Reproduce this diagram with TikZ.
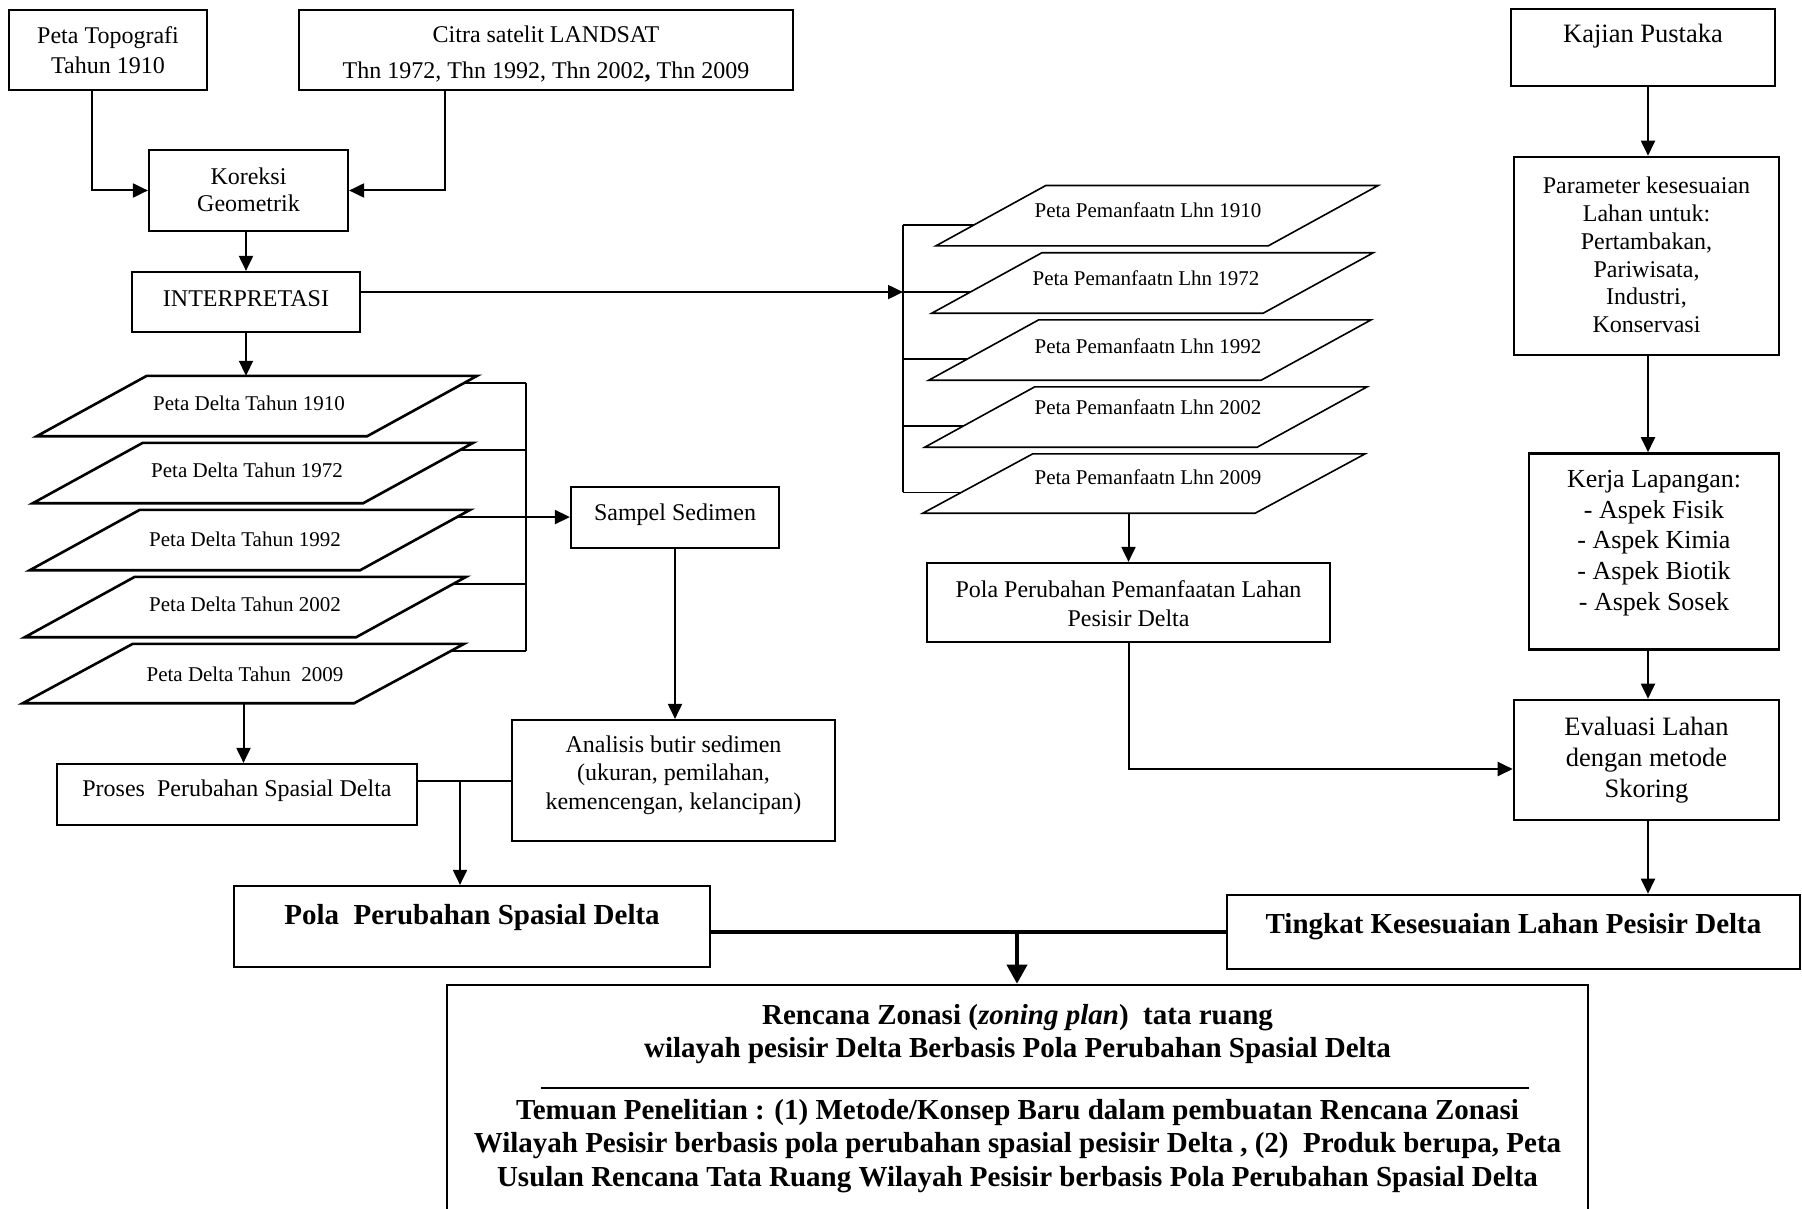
\documentclass[tikz,border=0pt]{standalone}
\usepackage{fontspec}
\setmainfont{Liberation Serif}
\usetikzlibrary{arrows.meta,calc}
\begin{document}
\begin{tikzpicture}[x=1pt,y=-1pt,
  box/.style={draw, line width=2.2pt, inner sep=0pt},
  rbox/.style={draw, line width=2.6pt, inner sep=0pt},
  shp/.style={draw=none, inner sep=0pt, minimum height=60},
  dpar/.style={line width=2.6pt, line join=miter},
  ppar/.style={line width=1.6pt, line join=miter},
  txt/.style={inner sep=0pt, align=center, font=\fontsize{24}{29}\selectfont},
  ptxt/.style={inner sep=0pt, font=\fontsize{21}{25}\selectfont},
  btxt/.style={inner sep=0pt, align=center, font=\fontsize{29}{33.3}\selectfont\bfseries},
  stxt/.style={inner sep=0pt, align=center, font=\fontsize{26.5}{31}\selectfont},
  ln/.style={line width=2pt},
  pln/.style={line width=1.6pt},
  arr/.style={line width=2pt, -{Triangle[length=15pt,width=14pt]}},
  tarr/.style={line width=3.8pt, -{Triangle[length=19pt,width=20pt]}},
  heavy/.style={line width=3.8pt},
]
\useasboundingbox (0,0) rectangle (1802,1209);
\fill[white] (0,0) rectangle (1802,1209);
\clip (0,0) rectangle (1802,1209);

% ---------- top left ----------
\node[box, minimum width=198, minimum height=80] (topo) at (108,50) {};
\node[txt, font=\fontsize{24}{30}\selectfont] (topoT) at (108,50) {Peta Topografi\\Tahun 1910};
\node[box, minimum width=494, minimum height=80] (citra) at (546,50) {};
\node[txt, font=\fontsize{24}{36}\selectfont] (citraT) at (546,54) {Citra satelit LANDSAT\\Thn 1972, Thn 1992, Thn 2002{\bfseries,} Thn 2009};
\node[box, minimum width=199, minimum height=81] (koreksi) at (248.5,190.5) {};
\node[txt, font=\fontsize{24}{27}\selectfont] (koreksiT) at (248.5,190) {Koreksi\\Geometrik};
\node[box, minimum width=228, minimum height=60] (interp) at (246,302) {};
\node[txt] (interpT) at (246,299) {INTERPRETASI};

\draw[arr] ($(topo.south west)+(84,0)$) |- (koreksi.west);
\draw[arr] ($(citra.south west)+(147,0)$) |- (koreksi.east);
\draw[arr] (interp.north |- koreksi.south) -- (interp.north);

% ---------- delta maps ----------
\node[shp, minimum width=440] (d1) at (257,406) {};
\node[shp, minimum width=440] (d2) at (253,473) {};
\node[shp, minimum width=440] (d3) at (250,540) {};
\node[shp, minimum width=441] (d4) at (245.5,607) {};
\node[shp, minimum width=441, minimum height=59] (d5) at (243.5,673.5) {};
\foreach \n in {d1,d2,d3,d4,d5}{
  \coordinate (\n-tl) at ($(\n.north west)+(110,0)$);
  \coordinate (\n-br) at ($(\n.south east)+(-110,0)$);
  \draw[dpar] (\n-tl) -- (\n.north east) -- (\n-br) -- (\n.south west) -- cycle;
  \coordinate (\n-c) at ($(\n.north east)!0.12!(\n-br)$);
}
\node[ptxt] (dt1) at (249,403) {Peta Delta Tahun 1910};
\node[ptxt] (dt2) at (247,470) {Peta Delta Tahun 1972};
\node[ptxt] (dt3) at (245,539) {Peta Delta Tahun 1992};
\node[ptxt] (dt4) at (245,604) {Peta Delta Tahun 2002};
\node[ptxt] (dt5) at (245,674) {Peta Delta Tahun~ 2009};

\draw[arr] (interp.south) -- (interp.south |- d1.north);

\coordinate (dbx) at (526,0);
\foreach \n in {d1,d2,d4,d5}{ \draw[ln] (\n-c) -- (\n-c -| dbx); }
\draw[ln] (d1-c -| dbx) -- (d5-c -| dbx);

\node[box, minimum width=208, minimum height=61] (sampel) at (675,517.5) {};
\node[txt] (sampelT) at (675,515) {Sampel Sedimen};
\draw[arr] (d3-c) -- (d3-c -| sampel.west);

\node[box, minimum width=323, minimum height=121] (analisis) at (673.5,780.5) {};
\node[txt, font=\fontsize{24}{28.7}\selectfont] (analisisT) at (673.5,775) {Analisis butir sedimen\\(ukuran, pemilahan,\\kemencengan, kelancipan)};
\draw[arr] (sampel.south) -- (sampel.south |- analisis.north);

\node[box, minimum width=360, minimum height=61] (proses) at (237,794.5) {};
\node[txt] (prosesT) at (237,791) {Proses~ Perubahan Spasial Delta};
\draw[arr] (d5.south) -- (d5.south |- proses.north);

\node[box, minimum width=476, minimum height=81] (pola) at (472,926.5) {};
\node[btxt] (polaT) at (472,918) {Pola~ Perubahan Spasial Delta};

\coordinate (j1) at (460,0);
\draw[ln] (analisis.west -| proses.east) -- (analisis.west);
\draw[arr] (analisis.west -| j1) -- (j1 |- pola.north);

% ---------- land use maps ----------
\node[shp, minimum width=442] (p1) at (1157,215.7) {};
\node[shp, minimum width=441] (p2) at (1152.5,283) {};
\node[shp, minimum width=442] (p3) at (1150,350) {};
\node[shp, minimum width=442] (p4) at (1146,417) {};
\node[shp, minimum width=442, minimum height=59] (p5) at (1144,483.5) {};
\foreach \n in {p1,p2,p3,p4,p5}{
  \coordinate (\n-tl) at ($(\n.north west)+(110,0)$);
  \coordinate (\n-br) at ($(\n.south east)+(-110,0)$);
  \draw[ppar] (\n-tl) -- (\n.north east) -- (\n-br) -- (\n.south west) -- cycle;
  \coordinate (\n-l) at ($(\n.south west)!0.35!(\n-tl)$);
}
\node[ptxt] (pt1) at (1148,210) {Peta Pemanfaatn Lhn 1910};
\node[ptxt] (pt2) at (1146,278) {Peta Pemanfaatn Lhn 1972};
\node[ptxt] (pt3) at (1148,346) {Peta Pemanfaatn Lhn 1992};
\node[ptxt] (pt4) at (1148,407) {Peta Pemanfaatn Lhn 2002};
\node[ptxt] (pt5) at (1148,477) {Peta Pemanfaatn Lhn 2009};

\coordinate (pbx) at (903,0);
\foreach \n in {p1,p2,p3,p4,p5}{ \draw[pln] (\n-l -| pbx) -- (\n-l); }
\draw[pln] (p1-l -| pbx) -- (p5-l -| pbx);
\draw[arr] (interp.east |- p2-l) -- (p2-l -| pbx);

\node[box, minimum width=403, minimum height=79] (ppl) at (1128.5,602.5) {};
\node[txt] (pplT) at (1128.5,604) {Pola Perubahan Pemanfaatan Lahan\\Pesisir Delta};
\draw[arr] (ppl.north |- p5.south) -- (ppl.north);

% ---------- right column ----------
\node[rbox, minimum width=264, minimum height=77] (kajian) at (1643,47.5) {};
\node[stxt] (kajianT) at (1643,36) {Kajian Pustaka};
\node[rbox, minimum width=265, minimum height=198] (param) at (1646.5,256) {};
\node[stxt, font=\fontsize{24}{27.8}\selectfont] (paramT) at (1646.5,255) {Parameter kesesuaian\\Lahan untuk:\\Pertambakan,\\Pariwisata,\\Industri,\\Konservasi};
\node[rbox, minimum width=250, minimum height=196] (kerja) at (1654,551.5) {};
\node[stxt, font=\fontsize{26}{30.7}\selectfont] (kerjaT) at (1654,543) {Kerja Lapangan:\\- Aspek Fisik\\- Aspek Kimia\\- Aspek Biotik\\- Aspek Sosek};
\node[rbox, minimum width=265, minimum height=120] (eval) at (1646.5,760) {};
\node[stxt] (evalT) at (1646.5,760) {Evaluasi Lahan\\dengan metode\\Skoring};

\node[rbox, minimum width=573, minimum height=74] (tingkat) at (1513.5,932) {};
\node[btxt] (tingkatT) at (1513.5,927) {Tingkat Kesesuaian Lahan Pesisir Delta};

\coordinate (rx) at (1648,0);
\draw[arr] (rx |- kajian.south) -- (rx |- param.north);
\draw[arr] (rx |- param.south) -- (rx |- kerja.north);
\draw[arr] (rx |- kerja.south) -- (rx |- eval.north);
\draw[arr] (rx |- eval.south) -- (rx |- tingkat.north);
\draw[arr] (ppl.south) |- ($(eval.west)+(0,9)$);

% ---------- bottom ----------
\node[rbox, minimum width=1141, minimum height=260] (bz) at (1017.5,1115) {};
\node[btxt] (bzT1) at (1017.5,1034) {Rencana Zonasi (\textit{zoning plan})~ tata ruang\\wilayah pesisir Delta Berbasis Pola Perubahan Spasial Delta};
\draw[ln] ($(bz.north west)+(95,104)$) -- ($(bz.north east)+(-60,104)$);
\node[btxt] (bzT2) at (1017.5,1146) {Temuan Penelitian : (1) Metode/Konsep Baru dalam pembuatan Rencana Zonasi\\Wilayah Pesisir berbasis pola perubahan spasial pesisir Delta , (2)~ Produk berupa, Peta\\Usulan Rencana Tata Ruang Wilayah Pesisir berbasis Pola Perubahan Spasial Delta};

\coordinate (j2) at (1017,0);
\draw[heavy] (pola.east |- tingkat.west) -- (tingkat.west);
\draw[tarr] (j2 |- tingkat.west) -- (j2 |- bz.north);
\end{tikzpicture}
\end{document}
